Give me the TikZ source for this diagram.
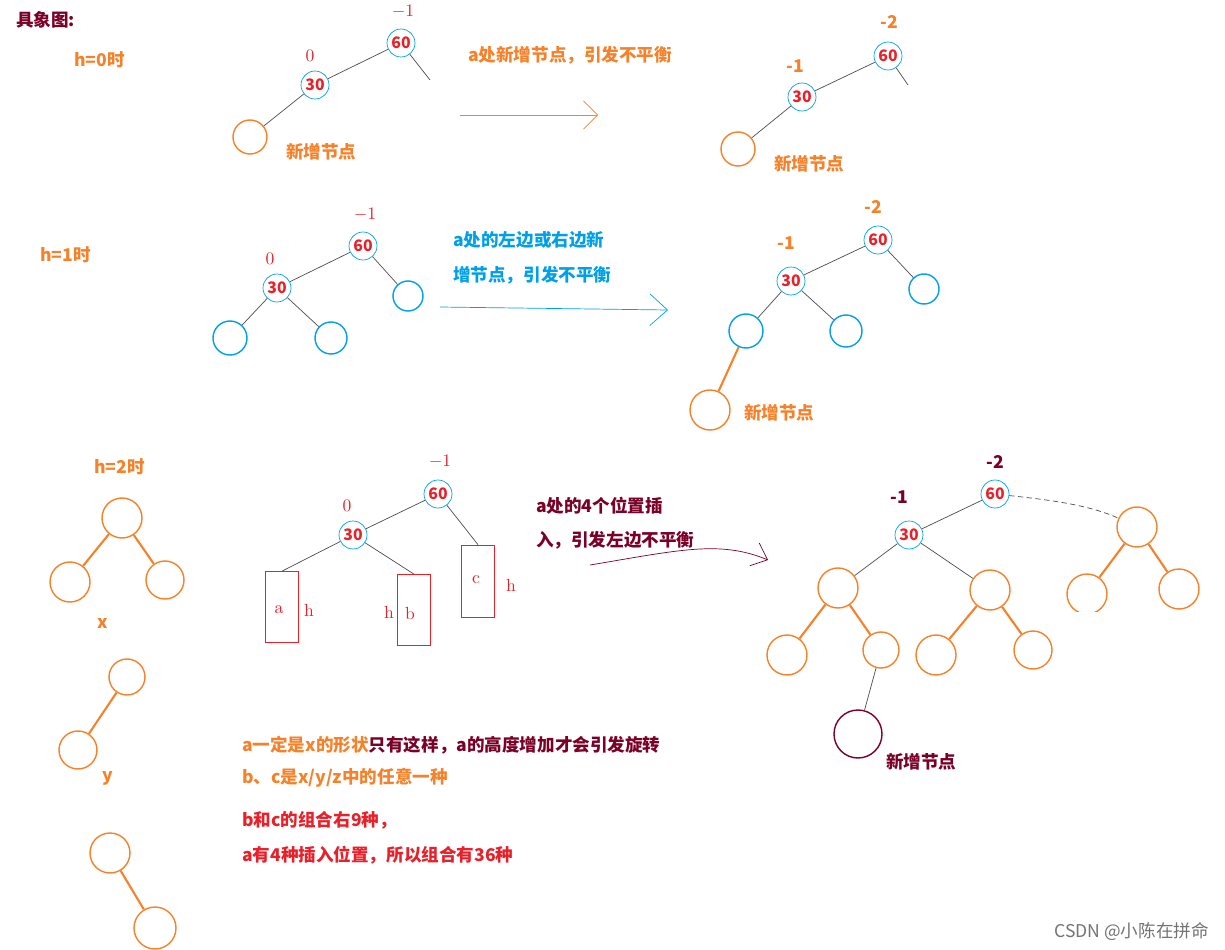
\documentclass[tikz,border=0pt]{standalone}
\usepackage{fontspec}
\newfontfamily\cjk{Noto Sans CJK SC}
\usetikzlibrary{arrows.meta, positioning}
\definecolor{org}{HTML}{F5822A}
\definecolor{blu}{HTML}{00A0E8}
\definecolor{dred}{HTML}{7A0026}
\definecolor{lred}{HTML}{E8202A}
\tikzset{
  num/.style={circle,draw=blu,thin,inner sep=0pt,minimum size=0.56cm,text=lred,font=\cjk\bfseries\small},
  leaf/.style={circle,draw=#1,thick,inner sep=0pt,minimum size=0.68cm},
  dia/.style={minimum size=#1*0.02cm},
  txt/.style={font=\cjk\bfseries,text=#1,anchor=west},
  edge/.style={draw=black!70,thin},
  oedge/.style={draw=org,very thick}
}
\begin{document}
\begin{tikzpicture}[x=0.02cm,y=-0.02cm]
\useasboundingbox (0,0) rectangle (1225,950);
\node[txt=dred] (title) at (10,20) {具象图:};
% h=0
\node[txt=org] (h0) at (68,60) {h=0时};
\node[num] (a60) at (401,43) {60};
\node[text=lred] at (403,12) {$-1$};
\node[num] (a30) at (315,85) {30};
\node[text=lred] at (310,56) {0};
\node[leaf=org,dia=34] (anew) at (250,137) {};
\coordinate (ar) at (430,80);
\draw[edge] (a60) -- (ar); \draw[edge] (a60) -- (a30); \draw[edge] (a30) -- (anew);
\node[txt=org] at (280,152) {新增节点};
\coordinate (s1a) at (460,115); \coordinate (s1b) at (598,115);
\draw[org,-{Straight Barb[length=8pt,width=16pt]}] (s1a) -- (s1b);
\node[txt=org] at (462,55) {a处新增节点，引发不平衡};
\node[num] (b60) at (888,56) {60};
\node[text=org,font=\cjk\bfseries] at (889,22) {-2};
\node[num] (b30) at (802,97) {30};
\node[text=org,font=\cjk\bfseries] at (795,66) {-1};
\node[leaf=org,dia=34] (bnew) at (738,149) {};
\coordinate (br) at (908,85);
\draw[edge] (b60) -- (br); \draw[edge] (b60) -- (b30); \draw[edge] (b30) -- (bnew);
\node[txt=org] at (768,164) {新增节点};
% h=1
\node[txt=org] (h1) at (34,255) {h=1时};
\node[num] (c60) at (363,246) {60};
\node[text=lred] at (365,215) {$-1$};
\node[num] (c30) at (277,288) {30};
\node[text=lred] at (270,259) {0};
\node[leaf=blu,dia=30] (cr) at (408,296) {};
\node[leaf=blu,dia=34] (cl) at (230,338) {};
\node[leaf=blu,dia=32] (cm) at (331,338) {};
\draw[edge] (c60) -- (cr); \draw[edge] (c60) -- (c30);
\draw[edge] (c30) -- (cl); \draw[edge] (c30) -- (cm);
\coordinate (s2a) at (440,307); \coordinate (s2b) at (668,310);
\draw[blu,-{Straight Barb[length=10pt,width=18pt]}] (s2a) -- (s2b);
\node[txt=blu] at (447,240) {a处的左边或右边新};
\node[txt=blu] at (447,275) {增节点，引发不平衡};
\node[num] (d60) at (878,240) {60};
\node[text=org,font=\cjk\bfseries] at (873,207) {-2};
\node[num] (d30) at (791,281) {30};
\node[text=org,font=\cjk\bfseries] at (786,243) {-1};
\node[leaf=blu,dia=30] (dr) at (924,289) {};
\node[leaf=blu,dia=34] (dl) at (746,331) {};
\node[leaf=blu,dia=32] (dm) at (846,331) {};
\node[leaf=org,dia=40] (dnew) at (710,410) {};
\draw[edge] (d60) -- (dr); \draw[edge] (d60) -- (d30);
\draw[edge] (d30) -- (dl); \draw[edge] (d30) -- (dm);
\draw[oedge] (dl) -- (dnew);
\node[txt=org] at (738,413) {新增节点};
% h=2 shapes
\node[txt=org] (h2) at (88,467) {h=2时};
\node[leaf=org,dia=40] (x1) at (122,518) {};
\node[leaf=org,dia=40] (x2) at (70,582) {};
\node[leaf=org,dia=38] (x3) at (165,580) {};
\draw[oedge] (x1) -- (x2); \draw[oedge] (x1) -- (x3);
\node[text=org,font=\cjk\bfseries] at (103,623) {x};
\node[leaf=org,dia=36] (y1) at (127,677) {};
\node[leaf=org,dia=38] (y2) at (78,750) {};
\draw[oedge] (y1) -- (y2);
\node[text=org,font=\cjk\bfseries] at (108,778) {y};
\node[leaf=org,dia=40] (z1) at (110,853) {};
\node[leaf=org,dia=42] (z2) at (155,928) {};
\draw[oedge] (z1) -- (z2);
% h=2 middle
\node[num] (e60) at (438,494) {60};
\node[text=lred] at (440,462) {$-1$};
\node[num] (e30) at (353,535) {30};
\node[text=lred] at (347,506) {0};
\node[draw=lred,thin,minimum width=0.66cm,minimum height=1.42cm,inner sep=0] (ra) at (282,607) {};
\node[draw=lred,thin,minimum width=0.66cm,minimum height=1.42cm,inner sep=0] (rb) at (414,610) {};
\node[draw=lred,thin,minimum width=0.66cm,minimum height=1.44cm,inner sep=0] (rc) at (478,581) {};
\draw[edge] (e60) -- (e30); \draw[edge] (e60) -- (rc.north);
\draw[edge] (e30) -- (ra.north); \draw[edge] (e30) -- (rb.north);
\node[text=lred] at (279,610) {a}; \node[text=lred] at (309,610) {h};
\node[text=lred] at (389,612) {h}; \node[text=lred] at (410,613) {b};
\node[text=lred] at (476,580) {c}; \node[text=lred] at (511,585) {h};
\coordinate (s3a) at (590,565); \coordinate (s3b) at (768,560);
\draw[dred,-{Straight Barb[length=8pt,width=14pt]}] (s3a) .. controls (680,550) and (720,540) .. (s3b);
\node[txt=dred] at (530,506) {a处的4个位置插};
\node[txt=dred] at (530,540) {入，引发左边不平衡};
% h=2 right
\node[num] (f60) at (995,494) {60};
\node[text=dred,font=\cjk\bfseries] at (995,462) {-2};
\node[num] (f30) at (909,535) {30};
\node[text=dred,font=\cjk\bfseries] at (899,497) {-1};
\node[leaf=org,dia=40] (fl) at (838,588) {};
\node[leaf=org,dia=40] (fm) at (990,590) {};
\node[leaf=org,dia=40] (fll) at (787,655) {};
\node[leaf=org,dia=36] (flr) at (881,650) {};
\node[leaf=org,dia=40] (fml) at (936,655) {};
\node[leaf=org,dia=38] (fmr) at (1033,650) {};
\node[leaf=org,dia=40] (fr) at (1137,527) {};
\node[leaf=org,dia=40] (frl) at (1087,594) {};
\node[leaf=org,dia=40] (frr) at (1179,589) {};
\fill[white] (1060,612) rectangle (1210,640);
\draw[edge] (f60) -- (f30);
\draw[edge,densely dashed] (f60) .. controls (1050,500) and (1090,505) .. (fr);
\draw[edge] (f30) -- (fl); \draw[edge] (f30) -- (fm);
\draw[oedge] (fl) -- (fll); \draw[oedge] (fl) -- (flr);
\draw[oedge] (fm) -- (fml); \draw[oedge] (fm) -- (fmr);
\draw[oedge] (fr) -- (frl); \draw[oedge] (fr) -- (frr);
\node[leaf=dred,dia=48] (fnew) at (858,734) {};
\draw[edge] (flr) -- (fnew);
\node[txt=dred] at (880,762) {新增节点};
% notes
\node[txt=org] (n1) at (236,745) {a一定是x的形状\textcolor{dred}{只有这样，a的高度增加才会引发旋转}};
\node[txt=org] (n2) at (236,778) {b、c是x/y/z中的任意一种};
\node[txt=lred] (n3) at (236,820) {b和c的组合右9种，};
\node[txt=lred] (n4) at (236,855) {a有4种插入位置，所以组合有36种};
\node[font=\cjk,text=black!55,anchor=east] at (1215,932) {CSDN @小陈在拼命};
\end{tikzpicture}
\end{document}
